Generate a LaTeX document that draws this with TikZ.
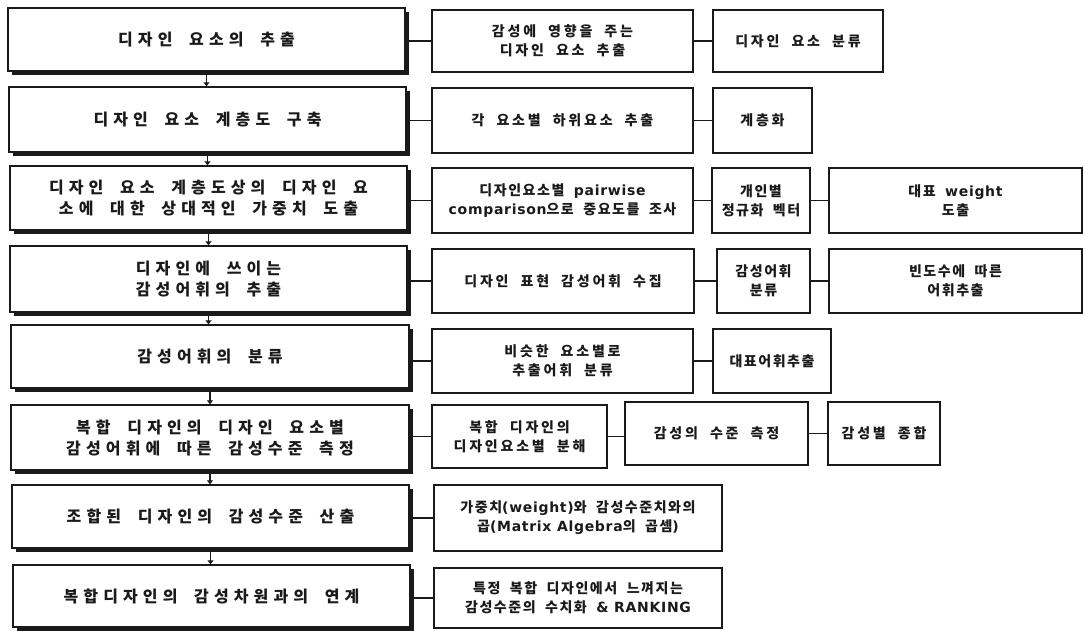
\documentclass[tikz,border=0pt]{standalone}
\usepackage{fontspec}
\setmainfont{Noto Sans CJK KR}
\newfontfamily\krL[LetterSpace=32,WordSpace=1.9]{Noto Sans CJK KR Black}
\newfontfamily\krS[LetterSpace=20,WordSpace=2.0]{Noto Sans CJK KR Black}
\newfontfamily\krN[LetterSpace=11,WordSpace=2.0]{Noto Sans CJK KR Black}
\newfontfamily\lat[LetterSpace=5]{DejaVu Sans}
\newcommand{\la}[1]{{\lat\bfseries #1}}
\usetikzlibrary{arrows.meta,shadows}
\definecolor{ink}{HTML}{1A1A1A}
\tikzset{
  lbox/.style={draw=ink, line width=1.4pt, fill=white, inner sep=0pt, align=center,
    text=ink, font={\krL\fontsize{16}{21}\selectfont},
    drop shadow={shadow xshift=4pt, shadow yshift=-4pt, fill=ink, opacity=1}},
  sbox/.style={draw=ink, line width=1.3pt, fill=white, inner sep=0pt, align=center,
    text=ink, font={\krS\fontsize{14}{19}\selectfont}},
  nbox/.style={sbox, font={\krN\fontsize{14}{19}\selectfont}},
  conn/.style={draw=ink, line width=1.4pt},
  flow/.style={conn, -{Triangle[length=4pt,width=6pt]}}
}
\begin{document}
\begin{tikzpicture}[x=1pt,y=-1pt]
\useasboundingbox[fill=white] (0,0) rectangle (1085,631);
% left column
\node[lbox, minimum width=397pt, minimum height=63pt] (L1) at (206.5,39.5) {디자인 요소의 추출};
\node[lbox, minimum width=397pt, minimum height=65pt] (L2) at (207.5,119.5) {디자인 요소 계층도 구축};
\node[lbox, minimum width=397pt, minimum height=64pt] (L3) at (208.5,198) {디자인 요소 계층도상의 디자인 요\\소에 대한 상대적인 가중치 도출};
\node[lbox, minimum width=397pt, minimum height=66pt] (L4) at (208.5,279) {디자인에 쓰이는\\감성어휘의 추출};
\node[lbox, minimum width=398pt, minimum height=63pt] (L5) at (210,356.5) {감성어휘의 분류};
\node[lbox, minimum width=398pt, minimum height=65pt] (L6) at (210,437.5) {복합 디자인의 디자인 요소별\\감성어휘에 따른 감성수준 측정};
\node[lbox, minimum width=397pt, minimum height=63pt] (L7) at (210.5,516.5) {조합된 디자인의 감성수준 산출};
\node[lbox, minimum width=397pt, minimum height=62pt] (L8) at (211.5,596) {복합디자인의 감성차원과의 연계};
% middle column
\node[sbox, minimum width=261pt, minimum height=62pt] (M1) at (562.5,41) {감성에 영향을 주는\\디자인 요소 추출};
\node[sbox, minimum width=261pt, minimum height=65pt] (M2) at (562.5,120.5) {각 요소별 하위요소 추출};
\node[nbox, minimum width=261pt, minimum height=65pt] (M3) at (562.5,200.5) {디자인요소별 \la{pairwise}\\\la{comparison}으로 중요도를 조사};
\node[sbox, minimum width=262pt, minimum height=64pt] (M4) at (563,281) {디자인 표현 감성어휘 수집};
\node[sbox, minimum width=261pt, minimum height=64pt] (M5) at (562.5,361) {비슷한 요소별로\\추출어휘 분류};
\node[sbox, minimum width=175pt, minimum height=63pt] (M6) at (519.5,436.5) {복합 디자인의\\디자인요소별 분해};
\node[nbox, minimum width=288pt, minimum height=66pt] (M7) at (578,518) {가중치\la{(weight)}와 감성수준치와의\\곱\la{(Matrix Algebra}의 곱셈\la{)}};
\node[nbox, minimum width=288pt, minimum height=60pt] (M8) at (578,598) {특정 복합 디자인에서 느껴지는\\감성수준의 수치화 \la{\& RANKING}};
% right columns
\node[sbox, minimum width=170pt, minimum height=62pt] (R1) at (798,41) {디자인 요소 분류};
\node[sbox, minimum width=99pt, minimum height=65pt] (R2) at (762.5,120.5) {계층화};
\node[nbox, minimum width=98pt, minimum height=65pt] (R3a) at (761,200.5) {개인별\\정규화 벡터};
\node[nbox, minimum width=253pt, minimum height=65pt] (R3b) at (955.5,200.5) {대표 \la{weight}\\도출};
\node[nbox, minimum width=93pt, minimum height=64pt] (R4a) at (763.5,281) {감성어휘\\분류};
\node[nbox, minimum width=253pt, minimum height=64pt] (R4b) at (955.5,281) {빈도수에 따른\\어휘추출};
\node[nbox, minimum width=118pt, minimum height=64pt] (R5) at (772,361) {대표어휘추출};
\node[sbox, minimum width=183pt, minimum height=63pt] (R6a) at (716.5,433.5) {감성의 수준 측정};
\node[sbox, minimum width=112pt, minimum height=63pt] (R6b) at (884,433.5) {감성별 종합};
% vertical flow
\foreach \a/\b in {L1/L2,L2/L3,L3/L4,L4/L5,L5/L6,L6/L7,L7/L8}
  \draw[flow] (\a.south) -- (\a.south |- \b.north);
% horizontal connectors
\foreach \a/\b in {L1/M1,L2/M2,L3/M3,L4/M4,L5/M5,L6/M6,L7/M7,L8/M8,
                   M1/R1,M2/R2,M3/R3a,R3a/R3b,M4/R4a,R4a/R4b,M5/R5}
  \draw[conn] (\a.east |- \b.west) -- (\b.west);
\draw[conn] (M6.east) -- (M6.east -| R6a.west);
\draw[conn] (R6a.east) -- (R6b.west);
\end{tikzpicture}
\end{document}
